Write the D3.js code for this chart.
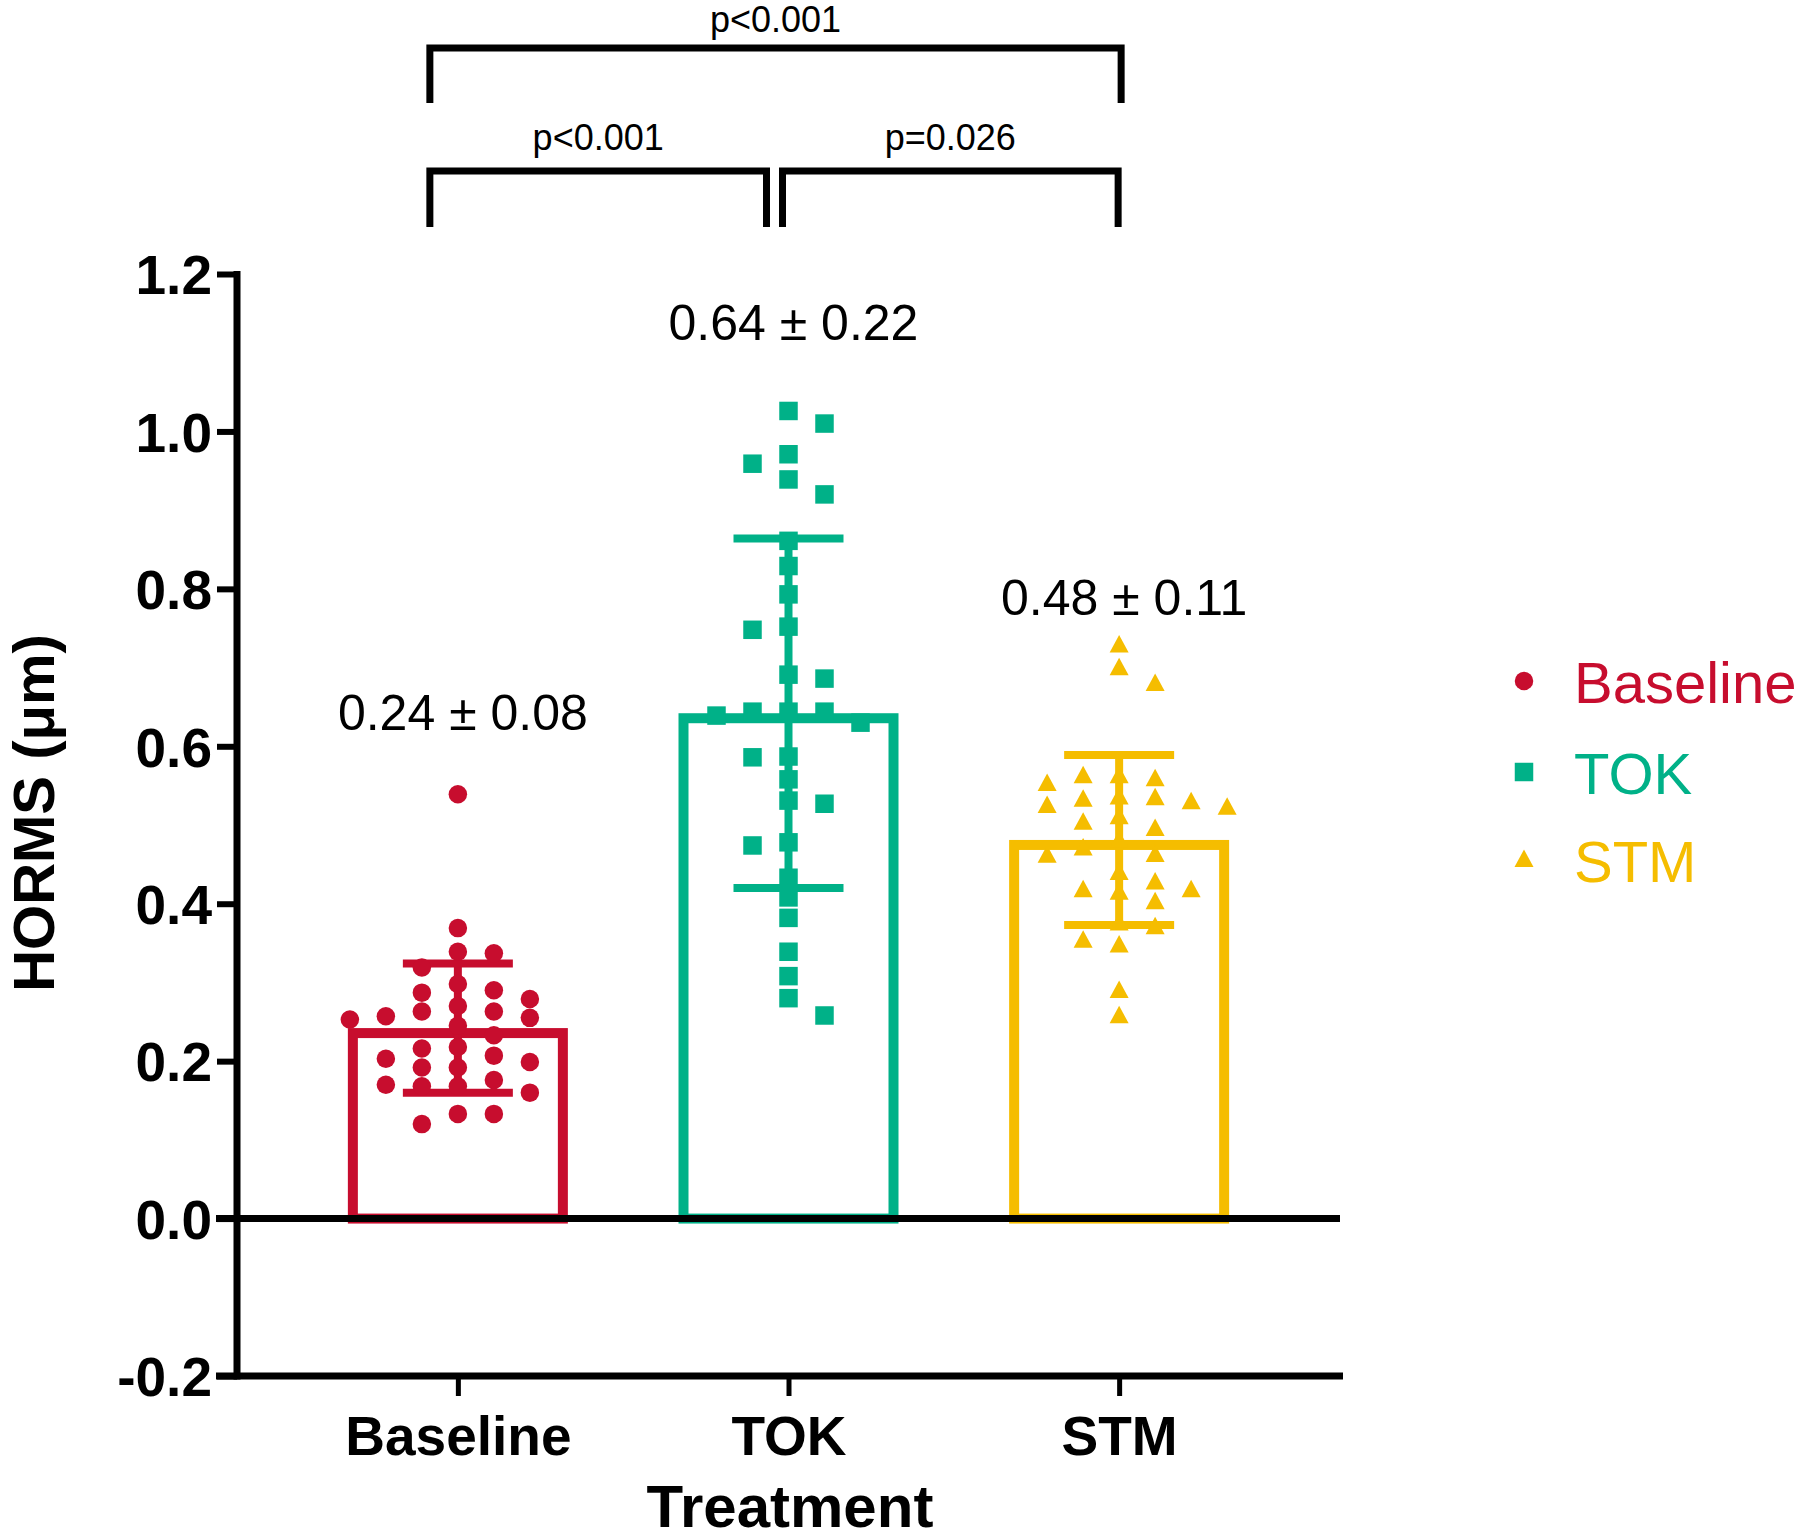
<!DOCTYPE html>
<html><head><meta charset="utf-8">
<script src="https://cdn.jsdelivr.net/npm/d3@7"></script>
<style>body{margin:0;background:#fff} svg{display:block}</style>
</head><body>
<svg id="chart" width="1800" height="1539"></svg>
<script>
// ---------------- data ----------------
const categories = ["Baseline", "TOK", "STM"];
const baselineValues = [0.539, 0.369, 0.337, 0.339, 0.319, 0.287, 0.290, 0.298, 0.279, 0.263, 0.263, 0.270,
  0.257, 0.253, 0.255, 0.245, 0.233, 0.218, 0.216, 0.207, 0.203, 0.192, 0.192, 0.199, 0.176, 0.168,
  0.168, 0.170, 0.160, 0.133, 0.133, 0.120];
const tokValues = [1.026, 1.010, 0.971, 0.959, 0.939, 0.920, 0.861, 0.829, 0.793, 0.752, 0.748, 0.691,
  0.686, 0.644, 0.644, 0.644, 0.639, 0.630, 0.586, 0.587, 0.558, 0.527, 0.531, 0.474, 0.478, 0.433,
  0.408, 0.382, 0.339, 0.308, 0.280, 0.258];
const stmValues = [0.728, 0.699, 0.679, 0.562, 0.562, 0.552, 0.558, 0.535, 0.532, 0.522, 0.524, 0.534,
  0.529, 0.510, 0.503, 0.495, 0.480, 0.470, 0.461, 0.462, 0.439, 0.427, 0.417, 0.414, 0.417, 0.402,
  0.375, 0.370, 0.353, 0.347, 0.289, 0.257];
const meanValues = [0.242, 0.642, 0.481];
const sdValues = [0.082, 0.222, 0.108];
const yTickValues = [-0.2, 0.0, 0.2, 0.4, 0.6, 0.8, 1.0, 1.2];
const comparisonPairs = [["Baseline", "STM"], ["Baseline", "TOK"], ["TOK", "STM"]];
const comparisonLabels = ["p<0.001", "p<0.001", "p=0.026"];
const yTitle = "HORMS (μm)";
const xTitle = "Treatment";

// ---------------- styling / layout ----------------
const groupValues = [baselineValues, tokValues, stmValues];
const colors = ["#C70D2E", "#00B188", "#F5BD00"];
const shapes = ["circle", "square", "triangle"];
const font = "'Liberation Sans', Arial, Helvetica, sans-serif";
const statLabelY = [0.621, 1.116, 0.767];     // annotation anchors (data units)

const svg = d3.select("#chart");
const x = d3.scalePoint().domain(categories).range([237, 1340]).padding(0.668);
const y = d3.scaleLinear().domain([-0.2, 1.2]).range([1376, 274]);

const barW = 220, barStroke = 10, capW = 110, errStroke = 8;

// bars (stroke drawn inside outline)
const bars = svg.append("g");
categories.forEach((c, i) => {
  const cx = x(c);
  bars.append("rect")
    .attr("x", cx - barW / 2 + barStroke / 2)
    .attr("y", y(meanValues[i]) + barStroke / 2)
    .attr("width", barW - barStroke)
    .attr("height", y(0) - y(meanValues[i]) - barStroke / 2)
    .attr("fill", "none").attr("stroke", colors[i]).attr("stroke-width", barStroke);
});

// error bars
const errs = svg.append("g");
categories.forEach((c, i) => {
  const cx = x(c), hi = y(meanValues[i] + sdValues[i]), lo = y(meanValues[i] - sdValues[i]);
  errs.append("line").attr("x1", cx).attr("x2", cx).attr("y1", hi).attr("y2", lo)
    .attr("stroke", colors[i]).attr("stroke-width", errStroke);
  [hi, lo].forEach(yy => errs.append("line").attr("x1", cx - capW / 2).attr("x2", cx + capW / 2)
    .attr("y1", yy).attr("y2", yy).attr("stroke", colors[i]).attr("stroke-width", errStroke));
});

// scatter points: greedy swarm on a half-slot grid
const markerSize = 18.5, step = 18, minDx = 36, minDy = 17.5;
function swarm(values) {
  const order = d3.range(values.length).sort((a, b) => values[b] - values[a]);
  const placed = [], out = values.map(v => ({ v, dx: 0 }));
  let flip = 1;
  for (const i of order) {
    const py = y(values[i]);
    const ok = dx => placed.every(p => Math.abs(p.dx - dx) >= minDx || Math.abs(p.py - py) >= minDy);
    let found = null;
    for (let k = 0; found === null && k < 20; k++) {
      const cands = k === 0 ? [0] : [flip * k * step, -flip * k * step];
      for (const dx of cands) if (ok(dx)) { found = dx; break; }
    }
    if (found !== 0) flip = -flip;
    out[i].dx = found;
    placed.push({ dx: found, py });
  }
  return out;
}
function symbolPath(shape) {
  const s = markerSize;
  if (shape === "circle") return d3.symbol(d3.symbolCircle, Math.PI * (s / 2) * (s / 2))();
  if (shape === "square") return `M${-s/2},${-s/2}h${s}v${s}h${-s}Z`;
  const w = 19, h = 17.5;
  return `M0,${-h*0.6}L${w/2},${h*0.4}L${-w/2},${h*0.4}Z`;
}
const pts = svg.append("g");
categories.forEach((c, i) => {
  pts.selectAll(null).data(swarm(groupValues[i])).join("path")
    .attr("d", symbolPath(shapes[i]))
    .attr("transform", d => `translate(${x(c) + d.dx},${y(d.v)})`)
    .attr("fill", colors[i]);
});

// axes
const yAxis = d3.axisLeft(y).tickValues(yTickValues).tickFormat(d => d.toFixed(1)).tickSize(20).tickSizeOuter(0).tickPadding(5);
const gy = svg.append("g").attr("transform", "translate(237,0)").call(yAxis);
gy.select(".domain").attr("stroke", "#000").attr("stroke-width", 7).attr("d", `M0,${y(-0.2)+3.5}V${y(1.2)-3}`);
gy.selectAll(".tick line").attr("stroke", "#000").attr("stroke-width", 6);
gy.selectAll(".tick text").attr("font-family", font).attr("font-weight", "bold").attr("font-size", 55)
  .attr("fill", "#000").attr("dy", "0.36em");

const xAxis = d3.axisBottom(x).tickSize(20).tickSizeOuter(0).tickPadding(20);
const gx = svg.append("g").attr("transform", `translate(0,${y(-0.2)})`).call(xAxis);
gx.select(".domain").attr("stroke", "#000").attr("stroke-width", 7).attr("d", "M216,0H1343");
gx.selectAll(".tick line").attr("stroke", "#000").attr("stroke-width", 5);
gx.selectAll(".tick text").attr("font-family", font).attr("font-weight", "bold").attr("font-size", 55)
  .attr("fill", "#000").attr("dy", "0.71em");

// zero line
svg.append("line").attr("x1", 216).attr("x2", 1340).attr("y1", y(0)).attr("y2", y(0))
  .attr("stroke", "#000").attr("stroke-width", 7);

// axis titles
svg.append("text").attr("transform", `translate(54,${813}) rotate(-90)`).attr("text-anchor", "middle")
  .attr("font-family", font).attr("font-weight", "bold").attr("font-size", 58).text(yTitle);
svg.append("text").attr("x", 790).attr("y", 1527).attr("text-anchor", "middle")
  .attr("font-family", font).attr("font-weight", "bold").attr("font-size", 60).text(xTitle);

// mean ± sd labels
const fmt = d3.format(".2f");
categories.forEach((c, i) => {
  svg.append("text").attr("x", x(c) + 5).attr("y", y(statLabelY[i])).attr("text-anchor", "middle")
    .attr("font-family", font).attr("font-size", 50).attr("fill", "#000")
    .text(`${fmt(meanValues[i])} ± ${fmt(sdValues[i])}`);
});

// significance brackets
const bracketLevels = [{ top: 48, bottom: 103, txt: 32 }, { top: 171, bottom: 227, txt: 150 }, { top: 171, bottom: 227, txt: 150 }];
const bracketInsets = [[-28, 2], [-28, -22], [-6, -1]];
const br = svg.append("g");
comparisonPairs.forEach((p, k) => {
  const lv = bracketLevels[k];
  const x1 = x(p[0]) + bracketInsets[k][0], x2 = x(p[1]) + bracketInsets[k][1];
  br.append("path").attr("d", `M${x1},${lv.bottom}V${lv.top}H${x2}V${lv.bottom}`)
    .attr("fill", "none").attr("stroke", "#000").attr("stroke-width", 7).attr("stroke-linejoin", "miter");
  br.append("text").attr("x", (x1 + x2) / 2).attr("y", lv.txt).attr("text-anchor", "middle")
    .attr("font-family", font).attr("font-size", 36).text(comparisonLabels[k]);
});

// legend
const lg = svg.append("g");
const legendY = [681, 772, 860];
categories.forEach((c, i) => {
  lg.append("path").attr("d", symbolPath(shapes[i])).attr("transform", `translate(1524,${legendY[i]})`).attr("fill", colors[i]);
  lg.append("text").attr("x", 1574).attr("y", legendY[i] + 22).attr("font-family", font).attr("font-size", 58)
    .attr("fill", colors[i]).text(c);
});
</script>
</body></html>
